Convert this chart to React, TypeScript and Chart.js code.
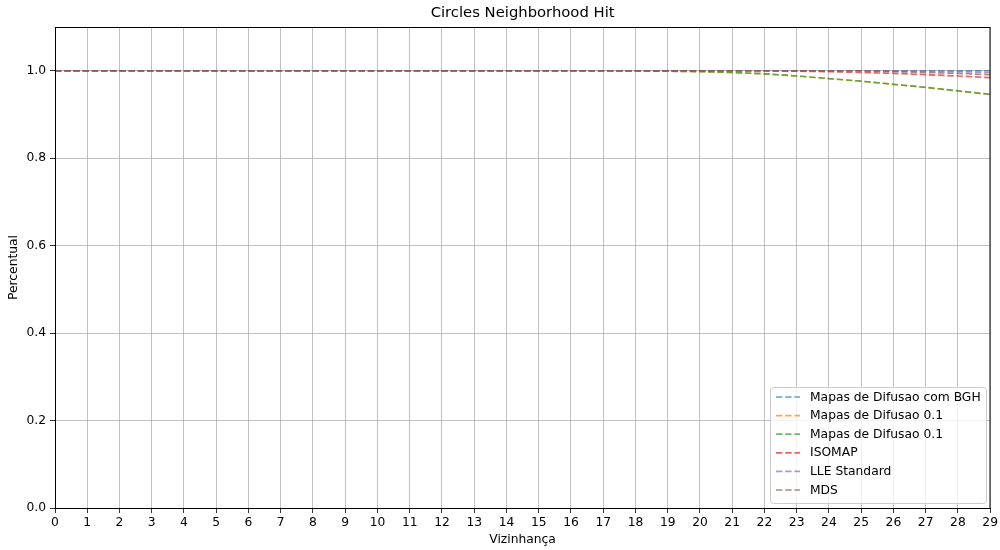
import React, { useEffect, useRef } from "react";
import { Chart, registerables } from "chart.js";

Chart.register(...registerables);

const TITLE = "Circles Neighborhood Hit";
const X_LABEL = "Vizinhança";
const Y_LABEL = "Percentual";

const neighborhoods = [
  "0", "1", "2", "3", "4", "5", "6", "7", "8", "9",
  "10", "11", "12", "13", "14", "15", "16", "17", "18", "19",
  "20", "21", "22", "23", "24", "25", "26", "27", "28", "29",
];

const mapasBGH = [
  1, 1, 1, 1, 1, 1, 1, 1, 1, 1,
  1, 1, 1, 1, 1, 1, 1, 1, 1, 1,
  1, 1, 1, 1, 1, 1, 1, 1, 1, 1,
];
const mapas01a = [
  1, 1, 1, 1, 1, 1, 1, 1, 1, 1,
  1, 1, 1, 1, 1, 1, 1, 1, 1, 0.999,
  0.998, 0.996, 0.993, 0.988, 0.982, 0.976, 0.969, 0.962, 0.954, 0.946,
];
const mapas01b = [
  1, 1, 1, 1, 1, 1, 1, 1, 1, 1,
  1, 1, 1, 1, 1, 1, 1, 1, 1, 0.999,
  0.998, 0.996, 0.993, 0.988, 0.982, 0.976, 0.969, 0.962, 0.954, 0.946,
];
const isomap = [
  1, 1, 1, 1, 1, 1, 1, 1, 1, 1,
  1, 1, 1, 1, 1, 1, 1, 1, 1, 1,
  1, 1, 1, 0.999, 0.998, 0.996, 0.994, 0.991, 0.988, 0.984,
];
const lleStandard = [
  1, 1, 1, 1, 1, 1, 1, 1, 1, 1,
  1, 1, 1, 1, 1, 1, 1, 1, 1, 1,
  1, 1, 1, 1, 1, 1, 1, 0.999, 0.998, 0.996,
];
const mds = [
  1, 1, 1, 1, 1, 1, 1, 1, 1, 1,
  1, 1, 1, 1, 1, 1, 1, 1, 1, 1,
  1, 1, 1, 1, 1, 1, 0.998, 0.996, 0.994, 0.991,
];

const seriesNames = [
  "Mapas de Difusao com BGH",
  "Mapas de Difusao 0.1",
  "Mapas de Difusao 0.1",
  "ISOMAP",
  "LLE Standard",
  "MDS",
];
const seriesData = [mapasBGH, mapas01a, mapas01b, isomap, lleStandard, mds];
const seriesColors = [
  "rgba(31,119,180,0.7)",
  "rgba(255,127,14,0.7)",
  "rgba(44,160,44,0.7)",
  "rgba(214,39,40,0.7)",
  "rgba(148,103,189,0.7)",
  "rgba(140,86,75,0.7)",
];

const yTicks = [0, 0.2, 0.4, 0.6, 0.8, 1.0];

const FONT = "'DejaVu Sans', sans-serif";
const DASH = [6.4, 2.8];
const LW = 1.7;

const framePlugin = {
  id: "frame",
  afterDraw(chart: any) {
    const { ctx, chartArea } = chart;
    const { left, right, top, bottom } = chartArea;
    ctx.save();
    // frame
    ctx.strokeStyle = "#000";
    ctx.lineWidth = 1;
    ctx.strokeRect(Math.round(left) + 0.5, Math.round(top) + 0.5, Math.round(right - left) - 0.5, Math.round(bottom - top));
    // title
    ctx.fillStyle = "#000";
    ctx.font = `14.8px ${FONT}`;
    ctx.textAlign = "center";
    ctx.textBaseline = "middle";
    ctx.fillText(TITLE, (left + right) / 2, 13);
    // axis titles
    ctx.font = `12.3px ${FONT}`;
    ctx.fillText(X_LABEL, (left + right) / 2, 539.5);
    ctx.save();
    ctx.translate(14, (top + bottom) / 2);
    ctx.rotate(-Math.PI / 2);
    ctx.fillText(Y_LABEL, 0, 0);
    ctx.restore();

    // legend
    const lx = 770.5;
    const ly = 387.5;
    const lw = 216;
    const lh = 116;
    const r = 3;
    ctx.beginPath();
    ctx.moveTo(lx + r, ly);
    ctx.lineTo(lx + lw - r, ly);
    ctx.quadraticCurveTo(lx + lw, ly, lx + lw, ly + r);
    ctx.lineTo(lx + lw, ly + lh - r);
    ctx.quadraticCurveTo(lx + lw, ly + lh, lx + lw - r, ly + lh);
    ctx.lineTo(lx + r, ly + lh);
    ctx.quadraticCurveTo(lx, ly + lh, lx, ly + lh - r);
    ctx.lineTo(lx, ly + r);
    ctx.quadraticCurveTo(lx, ly, lx + r, ly);
    ctx.closePath();
    ctx.fillStyle = "rgba(255,255,255,0.8)";
    ctx.fill();
    ctx.strokeStyle = "#cccccc";
    ctx.lineWidth = 1;
    ctx.stroke();

    ctx.font = `12.3px ${FONT}`;
    ctx.textAlign = "left";
    ctx.textBaseline = "middle";
    seriesNames.forEach((name, i) => {
      const y = 397 + i * 18.6;
      ctx.beginPath();
      ctx.setLineDash(DASH);
      ctx.strokeStyle = seriesColors[i];
      ctx.lineWidth = LW;
      ctx.moveTo(776, y);
      ctx.lineTo(800, y);
      ctx.stroke();
      ctx.setLineDash([]);
      ctx.fillStyle = "#000";
      ctx.fillText(name, 810, y + 0.5);
    });
    ctx.restore();
  },
};

export default function App() {
  const canvasRef = useRef<HTMLCanvasElement | null>(null);

  useEffect(() => {
    document.body.style.margin = "0";
    const canvas = canvasRef.current;
    if (!canvas) return;
    const n = seriesData.length;
    const chart = new Chart(canvas, {
      type: "line",
      data: {
        labels: neighborhoods,
        datasets: seriesData.map((d, i) => ({
          label: seriesNames[i],
          data: d,
          borderColor: seriesColors[i],
          backgroundColor: seriesColors[i],
          borderWidth: LW,
          borderDash: DASH,
          pointRadius: 0,
          pointHoverRadius: 0,
          fill: false,
          tension: 0,
          order: n - i,
        })),
      },
      options: {
        animation: false,
        responsive: false,
        maintainAspectRatio: false,
        layout: { padding: { top: 27, right: 9, left: 0, bottom: 0 } },
        plugins: {
          legend: { display: false },
          title: { display: false },
          tooltip: { enabled: false },
        },
        scales: {
          x: {
            type: "category",
            offset: false,
            grid: {
              color: "#b0b0b0",
              lineWidth: 0.8,
              drawTicks: true,
              tickLength: 5,
              tickColor: "#000",
            },
            border: { display: true, color: "#000", width: 1 },
            ticks: {
              color: "#000",
              font: { family: FONT, size: 12.3 },
              padding: 2,
              maxRotation: 0,
              autoSkip: false,
            },
            title: { display: false },
            afterFit(scale: any) {
              scale.height = 42;
            },
          },
          y: {
            type: "linear",
            min: 0,
            max: 1.1,
            afterBuildTicks(scale: any) {
              scale.ticks = yTicks.map((v) => ({ value: v }));
            },
            grid: {
              color: "#b0b0b0",
              lineWidth: 0.8,
              drawTicks: true,
              tickLength: 5,
              tickColor: "#000",
            },
            border: { display: true, color: "#000", width: 1 },
            ticks: {
              color: "#000",
              font: { family: FONT, size: 12.3 },
              padding: 4,
              callback: (v: any) => Number(v).toFixed(1),
            },
            title: { display: false },
            afterFit(scale: any) {
              scale.width = 55;
            },
          },
        },
      },
      plugins: [framePlugin],
    });
    return () => chart.destroy();
  }, []);

  return (
    <div style={{ position: "absolute", left: 0, top: 0, width: 1000, height: 550, background: "#fff" }}>
      <canvas ref={canvasRef} width={1000} height={550} style={{ width: 1000, height: 550 }} />
    </div>
  );
}
